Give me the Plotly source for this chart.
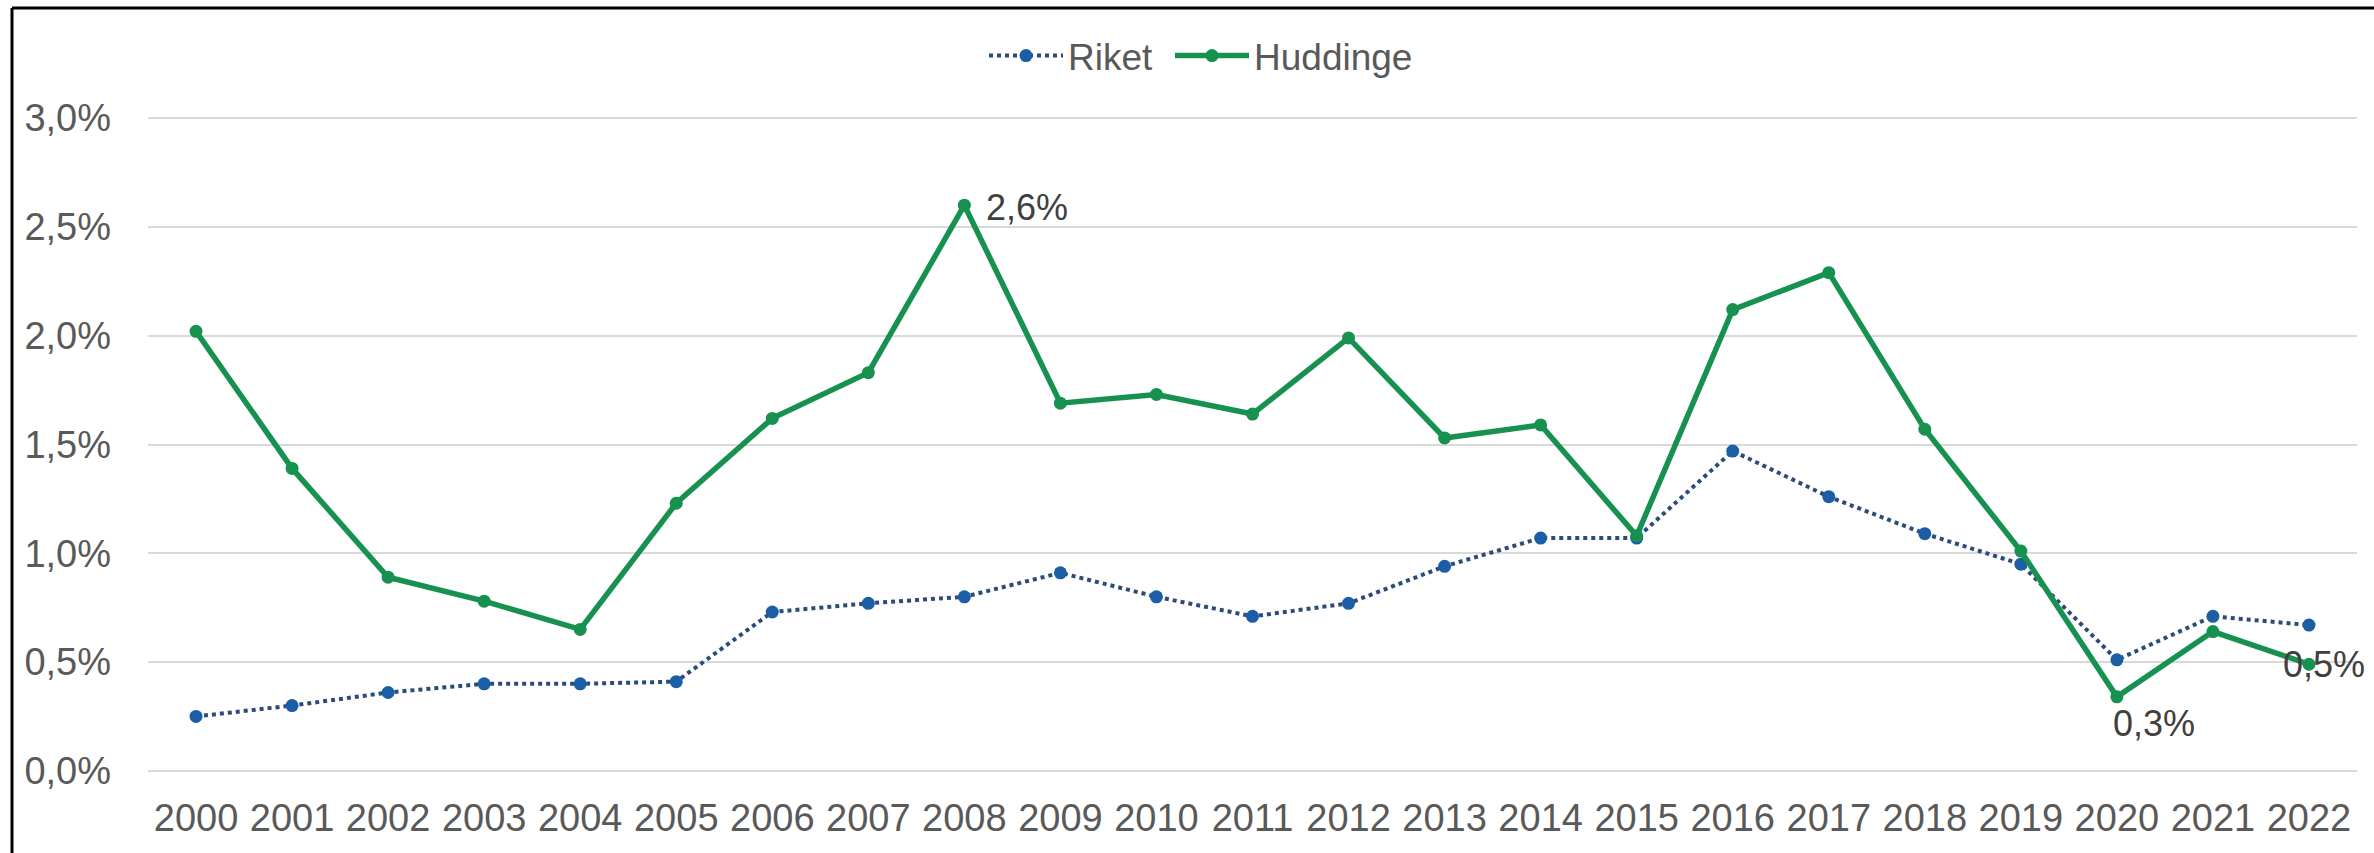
import plotly.graph_objects as go

years = [str(y) for y in range(2000, 2023)]
riket = [0.25, 0.30, 0.36, 0.40, 0.40, 0.41, 0.73, 0.77, 0.80, 0.91, 0.80, 0.71, 0.77,
         0.94, 1.07, 1.07, 1.47, 1.26, 1.09, 0.95, 0.51, 0.71, 0.67]
huddinge = [2.02, 1.39, 0.89, 0.78, 0.65, 1.23, 1.62, 1.83, 2.60, 1.69, 1.73, 1.64, 1.99,
            1.53, 1.59, 1.08, 2.12, 2.29, 1.57, 1.01, 0.34, 0.64, 0.49]
# labelled points: year -> (xshift, yshift, xanchor, yanchor)
labelled_years = {"2008": (20, -2, "left", "middle"),
                  "2020": (-6, -4, "left", "top"),
                  "2022": (-28, 0, "left", "middle")}
y_ticks = [0, 0.005, 0.01, 0.015, 0.02, 0.025, 0.03]

riket_f = [v / 100 for v in riket]
hudd_f = [v / 100 for v in huddinge]

FONT = "Liberation Sans, Arial, sans-serif"
GRAY = "#595959"
GREEN = "#17914F"
BLUE = "#1B5EA6"
NAVY = "#2A4D78"

fig = go.Figure()
fig.add_trace(go.Scatter(
    x=years, y=riket_f, name="Riket", mode="lines+markers",
    line=dict(color=NAVY, width=4, dash="dot"),
    marker=dict(color=BLUE, size=13),
    legendwidth=97,
))
fig.add_trace(go.Scatter(
    x=years, y=hudd_f, name="Huddinge", mode="lines+markers",
    line=dict(color=GREEN, width=5.5),
    marker=dict(color=GREEN, size=13),
))

for yr, (xs, ys, xa, ya) in labelled_years.items():
    i = years.index(yr)
    v = hudd_f[i]
    txt = f"{v*100:.1f}".replace(".", ",") + "%"
    fig.add_annotation(x=i, y=v, xref="x", yref="y", text=txt, showarrow=False,
                       xanchor=xa, yanchor=ya, xshift=xs, yshift=ys,
                       font=dict(family=FONT, size=36, color="#404040"))

# partial frame (top and left edges visible in the reference)
W, H = 2374, 853
L, R, T, B = 148, 17, 116, 80
pw, ph = W - L - R, H - T - B
fx = lambda px: (px - L) / pw
fy = lambda py: (H - B - py) / ph
fig.add_shape(type="line", xref="paper", yref="paper",
              x0=fx(12), x1=fx(12), y0=fy(870), y1=fy(8),
              line=dict(color="black", width=3))
fig.add_shape(type="line", xref="paper", yref="paper",
              x0=fx(12), x1=fx(2390), y0=fy(8), y1=fy(8),
              line=dict(color="black", width=3))

fig.update_layout(
    width=W, height=H,
    margin=dict(l=L, r=R, t=T, b=B, pad=0),
    paper_bgcolor="white", plot_bgcolor="white",
    separators=", ",
    font=dict(family=FONT, size=37, color=GRAY),
    hovermode=False,
    legend=dict(orientation="h", x=fx(984), xanchor="left", y=fy(56), yanchor="middle",
                font=dict(family=FONT, size=37, color=GRAY), itemwidth=74,
                bgcolor="rgba(0,0,0,0)"),
    xaxis=dict(type="category", showgrid=False, zeroline=False, showline=False,
               ticks="", tickfont=dict(size=38, color=GRAY), range=[-0.5, 22.5],
               ticklabelstandoff=19),
    yaxis=dict(range=[-0.0001, 0.0301], tickvals=y_ticks, tickformat=".1%",
               showgrid=True, gridcolor="#D9D9D9", gridwidth=2, zeroline=False,
               showline=False, ticks="", tickfont=dict(size=38, color=GRAY),
               ticklabelstandoff=36),
)

fig.write_html("out.html", config={"displayModeBar": False},
               post_script="document.body.style.margin='0';document.body.style.overflow='hidden';")
